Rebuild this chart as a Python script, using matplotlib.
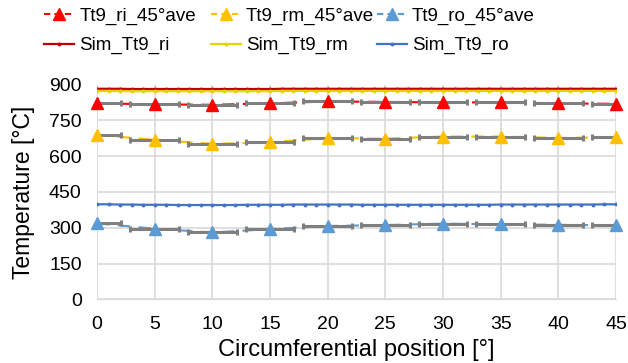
import matplotlib
matplotlib.use("Agg")
import matplotlib.pyplot as plt
from matplotlib.lines import Line2D

plt.rcParams['font.family'] = ['Liberation Sans', 'DejaVu Sans']

# Measured (45° averaged) data
pos = [0, 5, 10, 15, 20, 25, 30, 35, 40, 45]
tt9_ri = [821, 817, 815, 821, 829, 827, 825, 825, 821, 819]
tt9_rm = [689, 668, 651, 658, 676, 673, 682, 682, 676, 679]
tt9_ro = [318, 296, 280, 294, 307, 311, 317, 314, 312, 310]
xerr_deg = 2.1

# Simulation data (1° resolution)
sim_pos = list(range(0, 46))
sim_ri = [882, 882, 882, 881, 881, 881, 881, 881, 881, 881, 881, 881, 881, 881, 881, 881,
          882, 882, 882, 882, 882, 882, 882, 882, 882, 882, 882, 882, 882, 882, 882, 882,
          882, 882, 882, 882, 882, 882, 882, 882, 882, 882, 882, 882, 882, 882]
sim_rm = [873, 873, 873, 872, 872, 872, 872, 872, 872, 872, 872, 872, 872, 872, 872, 872,
          873, 873, 873, 873, 873, 873, 873, 873, 873, 873, 873, 873, 873, 873, 873, 873,
          873, 873, 873, 873, 873, 873, 873, 873, 873, 873, 873, 873, 873, 873]
sim_ro = [398, 398, 397, 397, 396, 396, 396, 395, 395, 395, 395, 395, 395, 396, 396, 396,
          396, 397, 397, 397, 397, 397, 397, 396, 396, 396, 396, 396, 396, 396, 396, 396,
          396, 396, 396, 397, 397, 397, 397, 397, 397, 397, 397, 397, 398, 398]

xticks = [0, 5, 10, 15, 20, 25, 30, 35, 40, 45]
yticks = [0, 150, 300, 450, 600, 750, 900]

c_ri, c_rm, c_ro = '#FF0000', '#FFC000', '#5B9BD5'
s_ri, s_rm, s_ro = '#C00000', '#E2D400', '#4472C4'
err_c = '#7F7F7F'

fig = plt.figure(figsize=(6.28, 3.63), dpi=100)
ax = fig.add_axes([97/628, 1-299.3/363, (616-97)/628, (299.3-84.5)/363])

# simulation lines
h_sri, = ax.plot(sim_pos, sim_ri, color=s_ri, lw=1.6, marker='o', ms=1.8, mec=s_ri, zorder=3)
h_srm, = ax.plot(sim_pos, sim_rm, color=s_rm, lw=1.6, marker='o', ms=1.8, mec=s_rm, zorder=3)
h_sro, = ax.plot(sim_pos, sim_ro, color=s_ro, lw=1.6, marker='o', ms=1.8, mec=s_ro, zorder=3)

handles = {}
for y, c, name in [(tt9_ri, c_ri, 'ri'), (tt9_rm, c_rm, 'rm'), (tt9_ro, c_ro, 'ro')]:
    ax.plot(pos, y, color=c, lw=1.5, ls=(0, (6, 4)), zorder=4, clip_on=False)
    ax.errorbar(pos, y, xerr=xerr_deg, fmt='none', ecolor=err_c, elinewidth=2.2,
                capsize=2.5, capthick=2.2, zorder=5)
    ax.plot(pos, y, ls='none', marker='^', ms=8.5, color=c, zorder=6, clip_on=False)
    handles[name] = Line2D([], [], color=c, lw=1.5, ls=(0, (3, 2)), marker='^', ms=8.5)

ax.set_xlim(0, 45)
ax.set_ylim(0, 900)
ax.set_xticks(xticks)
ax.set_yticks(yticks)
ax.grid(True, color='#D9D9D9', lw=1.2)
ax.set_axisbelow(True)
for s in ['top', 'right', 'left']:
    ax.spines[s].set_visible(False)
ax.spines['bottom'].set_color('#D9D9D9')
ax.tick_params(length=0, labelsize=14)
ax.tick_params(axis='x', pad=12)
ax.tick_params(axis='y', pad=11)
ax.set_xlabel('Circumferential position [°]', fontsize=17, labelpad=4)
ax.set_ylabel('Temperature [°C]', fontsize=16.5, labelpad=10)

columns = [
    ([handles['ri'], h_sri], ['Tt9_ri_45°ave', 'Sim_Tt9_ri'], 36),
    ([handles['rm'], h_srm], ['Tt9_rm_45°ave', 'Sim_Tt9_rm'], 203),
    ([handles['ro'], h_sro], ['Tt9_ro_45°ave', 'Sim_Tt9_ro'], 369),
]
for hs, ls_, xpx in columns:
    fig.legend(hs, ls_, loc='upper left', bbox_to_anchor=(xpx/628, 1.0),
               frameon=False, fontsize=13.5, handlelength=1.6, handletextpad=0.3,
               labelspacing=0.65, borderaxespad=0)

fig.savefig('out.png', dpi=100)
